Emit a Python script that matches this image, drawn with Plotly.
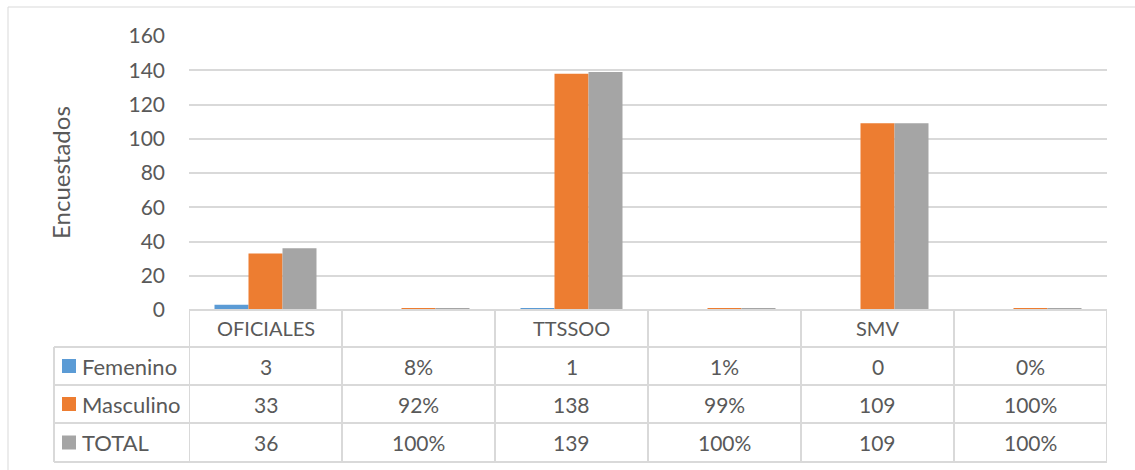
import plotly.graph_objects as go

# ---- data ----
categories = ["OFICIALES", "", "TTSSOO", "", "SMV", ""]
series_names = ["Femenino", "Masculino", "TOTAL"]
femenino = [3, 0.08, 1, 0.01, 0, 0]
masculino = [33, 0.92, 138, 0.99, 109, 1.00]
total = [36, 1.00, 139, 1.00, 109, 1.00]
is_percent = [False, True, False, True, False, True]
y_ticks = [0, 20, 40, 60, 80, 100, 120, 140, 160]
y_title = "Encuestados"

colors = ["#5B9BD5", "#ED7D31", "#A5A5A5"]
text_color = "#595959"
grid_color = "#D9D9D9"
FONT = "Lato, Carlito, Calibri, sans-serif"

W, H = 1135, 470
L, R, T, B = 189, 28, 36, 160
plot_w = W - L - R
plot_h = H - T - B


def px_x(px):
    return (px - L) / plot_w


def px_y(py):
    return (H - B - py) / plot_h


def tf(size):
    return dict(family=FONT, size=size, color=text_color)


xs = list(range(len(categories)))
fig = go.Figure()
for name, vals, c in zip(series_names, [femenino, masculino, total], colors):
    fig.add_trace(go.Bar(x=xs, y=vals, name=name, marker=dict(color=c, line=dict(width=0)),
                         hoverinfo="name+y"))

shapes = []
annotations = []
line = dict(color=grid_color, width=2)

# table geometry (pixels)
row_edges = [310, 347, 385, 423, 462]
legend_left = 54

# horizontal lines
shapes.append(dict(type="line", xref="paper", yref="paper", x0=0, x1=1,
                   y0=px_y(row_edges[0]), y1=px_y(row_edges[0]), line=line))
for ry in row_edges[1:]:
    shapes.append(dict(type="line", xref="paper", yref="paper", x0=px_x(legend_left), x1=1,
                       y0=px_y(ry), y1=px_y(ry), line=line))
# vertical lines
for i in range(len(categories) + 1):
    shapes.append(dict(type="line", xref="x", yref="paper", x0=i - 0.5, x1=i - 0.5,
                       y0=px_y(row_edges[0]), y1=px_y(row_edges[-1]), line=line))
shapes.append(dict(type="line", xref="paper", yref="paper", x0=px_x(legend_left), x1=px_x(legend_left),
                   y0=px_y(row_edges[1]), y1=px_y(row_edges[-1]), line=line))

# outer chart border
shapes.append(dict(type="line", xref="paper", yref="paper", x0=px_x(8), x1=px_x(1140),
                   y0=px_y(7), y1=px_y(7), line=dict(color=grid_color, width=1)))
shapes.append(dict(type="line", xref="paper", yref="paper", x0=px_x(8), x1=px_x(8),
                   y0=px_y(7), y1=px_y(475), line=dict(color=grid_color, width=1)))

# header row labels
hc = (row_edges[0] + row_edges[1]) / 2
for i, cat in enumerate(categories):
    if cat:
        annotations.append(dict(x=i, y=px_y(hc), xref="x", yref="paper", text=cat,
                                xanchor="center", yanchor="middle", showarrow=False, font=tf(20)))

# data rows
for r, (name, vals, c) in enumerate(zip(series_names, [femenino, masculino, total], colors)):
    cy = (row_edges[r + 1] + row_edges[r + 2]) / 2
    # legend key square
    shapes.append(dict(type="rect", xref="paper", yref="paper",
                       x0=px_x(62), x1=px_x(76), y0=px_y(cy - 7), y1=px_y(cy + 7),
                       fillcolor=c, line=dict(width=0)))
    annotations.append(dict(x=px_x(80), y=px_y(cy), xref="paper", yref="paper", text=name,
                            xanchor="left", yanchor="middle", showarrow=False, font=tf(22)))
    for i, v in enumerate(vals):
        txt = f"{v:.0%}" if is_percent[i] else f"{v:g}"
        annotations.append(dict(x=i, y=px_y(cy), xref="x", yref="paper", text=txt,
                                xanchor="center", yanchor="middle", showarrow=False, font=tf(21)))

# y-axis title
annotations.append(dict(x=px_x(60), y=0.5, xref="paper", yref="paper", text=y_title,
                        textangle=-90, xanchor="center", yanchor="middle",
                        showarrow=False, font=tf(24)))

fig.update_layout(
    width=W, height=H,
    margin=dict(l=L, r=R, t=T, b=B, pad=0),
    paper_bgcolor="white", plot_bgcolor="white",
    barmode="group", bargap=1 / 3, bargroupgap=0,
    showlegend=False,
    shapes=shapes, annotations=annotations,
    font=tf(20),
    xaxis=dict(range=[-0.5, len(categories) - 0.5], showticklabels=False, showgrid=False,
               zeroline=False, showline=False, fixedrange=True),
    yaxis=dict(range=[0, 160], tickvals=y_ticks, showgrid=True, gridcolor=grid_color, gridwidth=2,
               zeroline=False, showline=False, ticks="", ticklabelstandoff=23,
               tickfont=tf(21), fixedrange=True),
)

fig.write_html("out.html", config={"displayModeBar": False},
               post_script="document.body.style.margin='0';")
